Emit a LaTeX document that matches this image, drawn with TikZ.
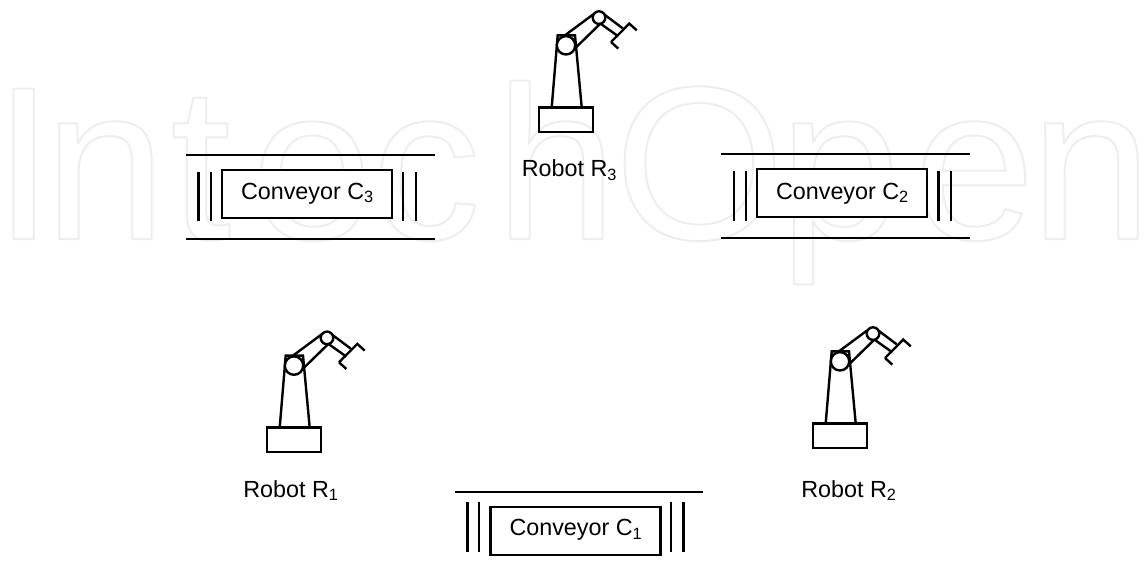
\documentclass[tikz,border=0pt]{standalone}
\usepackage{fontspec}
\setmainfont{Liberation Sans}
\definecolor{wm}{HTML}{EDEEEE}
\newcommand{\outlinetext}[1]{\special{pdf:literal direct 1 Tr 1.5 w 1 j}#1\special{pdf:literal direct 0 Tr}}
\tikzset{
  line/.style={line width=1.8pt,black},
  lbl/.style={inner sep=0pt,font=\fontsize{17.5pt}{20pt}\selectfont,text=black},
  wmark/.style={anchor=base west,inner sep=0pt,text=wm,font=\fontsize{164pt}{170pt}\selectfont},
  beltbox/.style={draw=black,line width=1.8pt,fill=white,minimum width=127.5pt,minimum height=36pt,inner sep=0pt},
  robot/.pic={
    \draw[line] (0,0) rectangle (54,24.4);
    \draw[line] (12.7,0) -- (18.7,-72) -- (36,-72) -- (42.7,0);
    \draw[line] (26,-72) -- (54.3,-93);
    \draw[line] (36,-59) -- (61.7,-84);
    \draw[line] (65,-93) -- (83.7,-79);
    \draw[line] (61,-84) -- (79.3,-71);
    \draw[line] (72,-65.3) -- (90.3,-83.7) -- (97.7,-77);
    \draw[line] (72,-65.3) -- (79.3,-58.7);
    \draw[line,fill=white] (27,-62) circle (9.2);
    \draw[line,fill=white] (60,-89.7) circle (6.3);
  }
}
\begin{document}
\begin{tikzpicture}[x=0.75pt,y=-0.75pt]
\useasboundingbox (0,0) rectangle (1148,569);
\fill[white] (0,0) rectangle (1148,569);
% watermark
\foreach \px/\ch/\nm in {-7/I/a,44/n/b,170/t/c,251/e/d,371/c/e,495/h/f,614/O/g,779/p/h,913/e/i,1030/n/j}{
  \node[wmark] (wm\nm) at (\px,239) {\outlinetext{\ch}};
}
% robots
\pic at (539,107.3) {robot};
\pic at (267,427.6) {robot};
\pic at (813,423.3) {robot};
% conveyor C3
\node[beltbox] (c3) at (307,194) {};
\node[lbl] (c3t) at (307.5,193.5) {Conveyor C\textsubscript{3}};
\draw[line] (186,154.7) -- (435,154.7);
\draw[line] (186,239) -- (435,239);
\foreach \x in {198.3,211,402.7,415.7} \draw[line] (\x,172) -- (\x,221);
% conveyor C2
\node[beltbox] (c2) at (842,193) {};
\node[lbl] (c2t) at (842.5,193.5) {Conveyor C\textsubscript{2}};
\draw[line] (721,153.7) -- (969.5,153.7);
\draw[line] (721,237.7) -- (969.5,237.7);
\foreach \x in {734,746,938.5,951} \draw[line] (\x,171) -- (\x,221);
% conveyor C1
\node[beltbox] (c1) at (575.5,531) {};
\node[lbl] (c1t) at (576,530) {Conveyor C\textsubscript{1}};
\draw[line] (455,491.7) -- (703,491.7);
\foreach \x in {467.5,479,671,683.5} \draw[line] (\x,502) -- (\x,551.7);
% labels
\node[lbl] (r3) at (569.5,170) {Robot R\textsubscript{3}};
\node[lbl] (r1) at (291,490.5) {Robot R\textsubscript{1}};
\node[lbl] (r2) at (849,490.5) {Robot R\textsubscript{2}};
\end{tikzpicture}
\end{document}
